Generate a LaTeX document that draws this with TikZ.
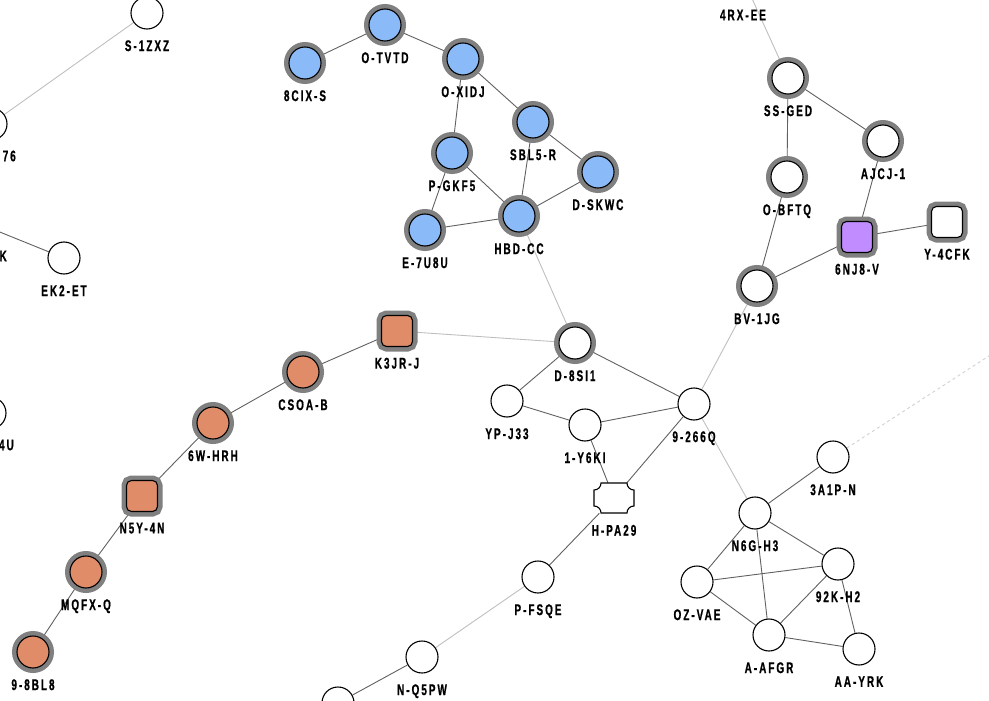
\documentclass[tikz,border=0pt]{standalone}
\usepackage{fontspec}
\setmainfont{Liberation Sans}[FakeStretch=0.64, LetterSpace=13, FakeBold=0.8]
\usepackage{xcolor}
\usepackage{tikz}
\usetikzlibrary{backgrounds}

\definecolor{nodeblue}{RGB}{138,187,248}
\definecolor{nodeorange}{RGB}{224,140,104}
\definecolor{nodepurple}{RGB}{192,140,255}
\definecolor{ringgray}{RGB}{128,128,128}

\tikzset{
  nd/.style={circle, draw=black, line width=1.1pt, fill=white, minimum size=32pt, inner sep=0pt},
  ring/.style={preaction={draw=ringgray, line width=10pt}},
  sq/.style={rectangle, rounded corners=5pt, minimum size=31pt},
  notched/.style={rectangle, minimum width=40pt, minimum height=30pt, inner sep=0pt},
  lbl/.style={font=\fontsize{15.5}{15.5}\selectfont\bfseries, inner sep=0pt},
  every label/.style={lbl, yshift=-10.5pt},
  label distance=0pt,
  edge/.style={draw=black!62, line width=0.9pt},
  faint/.style={draw=black!25, line width=0.9pt},
}

\begin{document}
\begin{tikzpicture}[x=1pt, y=-1pt]
  \useasboundingbox (0,0) rectangle (989,701);

  % left side
  \node[nd, label=below:S-1ZXZ] (s1zxz) at (147,13) {};
  \node[nd] (n76) at (-9,124) {};
  \node[lbl, anchor=east] (l76) at (16,156) {76};
  \node[nd] (nk) at (-20,224) {};
  \node[lbl, anchor=east] (lk) at (7,256) {K};
  \node[nd, label=below:EK2-ET] (ek2et) at (64,258) {};
  \node[nd] (n4u) at (-10,413) {};
  \node[lbl, anchor=east] (l4u) at (14,445) {4U};

  % blue group
  \node[nd, ring, fill=nodeblue, label=below:O-TVTD] (otvtd) at (385,25) {};
  \node[nd, ring, fill=nodeblue, label=below:8CIX-S] (cix8s) at (305,63) {};
  \node[nd, ring, fill=nodeblue, label=below:O-XIDJ] (oxidj) at (463,59) {};
  \node[nd, ring, fill=nodeblue, label=below:SBL5-R] (sbl5r) at (533,122) {};
  \node[nd, ring, fill=nodeblue, label=below:P-GKF5] (pgkf5) at (452,153) {};
  \node[nd, ring, fill=nodeblue, label=below:D-SKWC] (dskwc) at (598,172) {};
  \node[nd, ring, fill=nodeblue, label=below:E-7U8U] (e7u8u) at (425,230) {};
  \node[nd, ring, fill=nodeblue, label=below:HBD-CC] (hbdcc) at (519,216) {};

  % top right group
  \node[nd] (rx4ee) at (745,-17) {};
  \node[lbl] (lrx4ee) at (743,15) {4RX-EE};
  \node[nd, ring, label=below:SS-GED] (ssged) at (788,78) {};
  \node[nd, ring, label=below:AJCJ-1] (ajcj1) at (883,141) {};
  \node[nd, ring, label=below:O-BFTQ] (obftq) at (787,177) {};
  \node[nd, sq, ring, fill=nodepurple, label=below:6NJ8-V] (nj8v) at (857,237) {};
  \node[nd, sq, ring, label=below:Y-4CFK] (y4cfk) at (947,222) {};
  \node[nd, ring, label=below:BV-1JG] (bv1jg) at (757,286) {};

  % orange chain
  \node[nd, sq, ring, fill=nodeorange, label=below:K3JR-J] (k3jrj) at (397,331) {};
  \node[nd, ring, fill=nodeorange, label=below:CSOA-B] (csoab) at (303,372) {};
  \node[nd, ring, fill=nodeorange, label=below:6W-HRH] (w6hrh) at (213,423) {};
  \node[nd, sq, ring, fill=nodeorange, label=below:N5Y-4N] (n5y4n) at (142,496) {};
  \node[nd, ring, fill=nodeorange, label=below:MQFX-Q] (mqfxq) at (86,572) {};
  \node[nd, ring, fill=nodeorange, label=below:9-8BL8] (bl98) at (33,652) {};

  % middle
  \node[nd, ring, label=below:D-8SI1] (d8si1) at (575,343) {};
  \node[nd, label=below:YP-J33] (ypj33) at (507,401) {};
  \node[nd, label=below:1-Y6KI] (y6ki) at (585,425) {};
  \node[nd, label=below:9-266Q] (q266) at (694,404) {};
  \node[notched, label={[yshift=-1pt]below:H-PA29}] (hpa29) at (614,498) {};
  \begin{scope}[shift={(hpa29.center)}]
    \draw[line width=1.1pt, fill=white] (-13,-15) -- (13,-15)
      .. controls (13,-11) and (16,-8) .. (20,-8) -- (20,8)
      .. controls (16,8) and (13,11) .. (13,15) -- (-13,15)
      .. controls (-13,11) and (-16,8) .. (-20,8) -- (-20,-8)
      .. controls (-16,-8) and (-13,-11) .. (-13,-15) -- cycle;
  \end{scope}
  \node[nd, label=below:P-FSQE] (pfsqe) at (538,577) {};
  \node[nd, label=below:N-Q5PW] (nq5pw) at (422,657) {};
  \node[nd] (nbot) at (338,703) {};

  % bottom right group
  \node[nd, label=below:3A1P-N] (a1p3n) at (833,457) {};
  \node[nd, label=below:N6G-H3] (n6gh3) at (755,513) {};
  \node[nd, label=below:OZ-VAE] (ozvae) at (697,582) {};
  \node[nd, label=below:92K-H2] (k92h2) at (838,564) {};
  \node[nd, label=below:A-AFGR] (aafgr) at (769,635) {};
  \node[nd, label=below:AA-YRK] (aayrk) at (859,649) {};
  \coordinate (farne) at (995,352);

  \begin{pgfonlayer}{background}
    % links
    \draw[faint] (s1zxz) -- (n76);
    \draw[edge] (nk) -- (ek2et);
    \draw[edge] (cix8s) -- (otvtd);
    \draw[edge] (otvtd) -- (oxidj);
    \draw[edge] (oxidj) -- (pgkf5);
    \draw[edge] (oxidj) -- (sbl5r);
    \draw[edge] (sbl5r) -- (dskwc);
    \draw[edge] (sbl5r) -- (hbdcc);
    \draw[edge] (pgkf5) -- (hbdcc);
    \draw[edge] (pgkf5) -- (e7u8u);
    \draw[edge] (e7u8u) -- (hbdcc);
    \draw[edge] (dskwc) -- (hbdcc);
    \draw[faint] (hbdcc) -- (d8si1);
    \draw[faint] (rx4ee) -- (ssged);
    \draw[edge] (ssged) -- (ajcj1);
    \draw[edge] (ssged) -- (obftq);
    \draw[edge] (ajcj1) -- (nj8v);
    \draw[edge] (obftq) -- (bv1jg);
    \draw[edge] (bv1jg) -- (nj8v);
    \draw[edge] (nj8v) -- (y4cfk);
    \draw[faint] (bv1jg) -- (q266);
    \draw[faint] (k3jrj) -- (d8si1);
    \draw[edge] (k3jrj) -- (csoab);
    \draw[edge] (csoab) -- (w6hrh);
    \draw[edge] (w6hrh) -- (n5y4n);
    \draw[edge] (n5y4n) -- (mqfxq);
    \draw[edge] (mqfxq) -- (bl98);
    \draw[edge] (d8si1) -- (ypj33);
    \draw[edge] (d8si1) -- (q266);
    \draw[edge] (ypj33) -- (y6ki);
    \draw[edge] (y6ki) -- (q266);
    \draw[edge] (y6ki) -- (hpa29);
    \draw[edge] (q266) -- (hpa29);
    \draw[edge] (hpa29) -- (pfsqe);
    \draw[faint] (pfsqe) -- (nq5pw);
    \draw[edge] (nq5pw) -- (nbot);
    \draw[faint] (q266) -- (n6gh3);
    \draw[edge] (n6gh3) -- (a1p3n);
    \draw[edge] (n6gh3) -- (ozvae);
    \draw[edge] (n6gh3) -- (k92h2);
    \draw[edge] (n6gh3) -- (aafgr);
    \draw[edge] (ozvae) -- (k92h2);
    \draw[edge] (ozvae) -- (aafgr);
    \draw[edge] (k92h2) -- (aafgr);
    \draw[edge] (k92h2) -- (aayrk);
    \draw[edge] (aafgr) -- (aayrk);
    \draw[faint, draw=black!18, dashed] (a1p3n) -- (farne);
  \end{pgfonlayer}
\end{tikzpicture}
\end{document}
